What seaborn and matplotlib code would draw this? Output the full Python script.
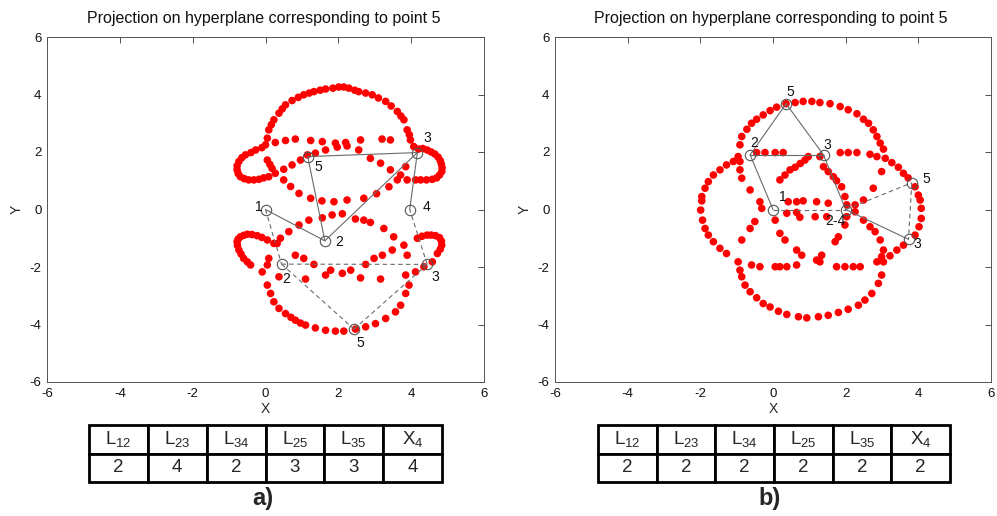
import matplotlib
matplotlib.use("Agg")
import matplotlib.pyplot as plt
import seaborn as sns
import pandas as pd

# ---------------- data: panel a) ----------------
a_upper_arc = [(0.0,2.25),(0.05,2.48),(0.09,2.77),(0.16,2.95),(0.23,3.12),(0.37,3.35),(0.46,3.5),(0.55,3.64),(0.73,3.79),
               (0.9,3.9),(1.05,3.99),(1.2,4.05),(1.33,4.1),(1.5,4.15),(1.65,4.19),(1.85,4.22),(2.01,4.26),(2.15,4.26),
               (2.29,4.22),(2.45,4.15),(2.56,4.1),(2.75,4.05),(2.93,3.99),(3.1,3.88),(3.3,3.76),(3.45,3.6),(3.62,3.41),
               (3.72,3.25),(3.8,3.12),(3.89,2.77),(3.95,2.6),(3.98,2.42),(4.07,2.19)]
a_left_loop_up = [(-0.1,2.15),(-0.27,2.07),(-0.4,1.98),(-0.55,1.9),(-0.65,1.8),(-0.73,1.67),(-0.78,1.52),(-0.78,1.38),
                  (-0.75,1.25),(-0.69,1.14),(-0.58,1.07),(-0.46,1.03),(-0.32,1.03),(-0.18,1.05),(-0.05,1.1),(0.09,1.14),
                  (0.27,1.26),(0.18,1.43),(0.12,1.57),(0.05,1.72),(0.5,1.4),(0.73,1.55),(0.96,1.72),(1.15,1.9)]
a_upper_row = [(0.27,2.33),(0.55,2.4),(0.82,2.45),(1.24,2.4),(1.56,2.36),(1.92,2.31),(2.2,2.33),(2.61,2.42),(3.2,2.45),(3.43,2.42)]
a_upper_diag = [(1.37,1.96),(1.65,2.07),(1.97,2.17),(2.24,2.21),(2.56,2.07),(2.88,1.78),(3.16,1.61),(3.43,1.38),
                (3.71,1.2),(3.89,1.03),(4.12,1.03)]
a_right_loop_up = [(4.26,1.03),(4.42,1.03),(4.58,1.05),(4.7,1.1),(4.78,1.2),(4.84,1.32),(4.85,1.45),(4.83,1.58),
                   (4.8,1.7),(4.74,1.82),(4.65,1.93),(4.55,2.0),(4.44,2.07),(4.32,2.12),(4.2,2.1)]
a_inner_up = [(0.5,1.03),(0.69,0.8),(0.92,0.56),(1.24,0.39),(1.55,0.3),(1.88,0.27),(2.24,0.33),(2.7,0.39),(3.05,0.55),
              (3.39,0.79),(3.62,1.03),(3.85,1.49)]
a_left_loop_low = [(0.23,-1.18),(0.05,-1.06),(-0.1,-0.97),(-0.23,-0.91),(-0.37,-0.87),(-0.5,-0.86),(-0.6,-0.9),
                   (-0.69,-0.95),(-0.75,-1.03),(-0.78,-1.12),(-0.77,-1.25),(-0.73,-1.41),(-0.67,-1.55),(-0.6,-1.7),
                   (-0.5,-1.82),(-0.41,-1.93)]
a_inner_low = [(0.32,-1.18),(0.41,-1.0),(0.64,-0.77),(0.92,-0.54),(1.19,-0.37),(1.56,-0.29),(1.83,-0.19),(2.11,-0.15),
               (2.47,-0.33),(2.7,-0.37),(2.88,-0.45),(3.25,-0.66),(3.52,-0.95),(3.8,-1.24),(3.89,-1.59)]
a_lower_arc = [(0.09,-1.7),(0.05,-1.93),(-0.09,-2.17),(0.05,-2.63),(0.14,-2.92),(0.23,-3.21),(0.37,-3.44),(0.55,-3.62),
               (0.7,-3.75),(0.82,-3.85),(0.96,-3.95),(1.1,-4.02),(1.37,-4.12),(1.65,-4.2),(1.92,-4.23),(2.15,-4.23),
               (2.47,-4.16),(2.75,-4.08),(3.02,-3.97),(3.3,-3.79),(3.57,-3.56),(3.71,-3.33),(3.85,-2.92),(3.94,-2.63),
               (4.12,-2.17),(4.35,-1.99)]
a_right_loop_low = [(4.58,-1.82),(4.72,-1.53),(4.8,-1.38),(4.84,-1.24),(4.83,-1.1),(4.78,-0.98),(4.67,-0.91),
                    (4.55,-0.89),(4.44,-0.89),(4.3,-0.93),(4.17,-1.0)]
a_lower_rows = [(0.82,-1.59),(1.05,-1.7),(1.33,-1.91),(2.75,-1.91),(2.98,-1.7),(3.21,-1.59),(3.48,-1.41),
                (0.37,-2.34),(1.1,-2.42),(1.65,-2.28),(1.79,-2.11),(2.11,-2.22),(2.34,-2.11),(2.61,-2.38),
                (3.16,-2.42),(3.85,-2.28)]

a_joints = {"1": (0.0, 0.0), "2": (1.63, -1.09), "3": (4.17, 1.98), "4": (3.96, 0.0), "5": (1.16, 1.84),
            "2'": (0.44, -1.9), "3'": (4.44, -1.91), "5'": (2.43, -4.16)}
a_solid = [("1","2"),("2","5"),("5","3"),("3","2"),("3","4")]
a_dashed = [("1","2'"),("2'","3'"),("2'","5'"),("5'","3'"),("3'","4")]
a_labels = [("1",(-0.18,0.08)),("2",(2.01,-1.12)),("3",(4.44,2.48)),("4",(4.42,0.08)),("5",(1.46,1.47)),
            ("2",(0.58,-2.43)),("3",(4.67,-2.36)),("5",(2.59,-4.66))]

# ---------------- data: panel b) ----------------
b_top_arc = [(-0.91,2.25),(-0.86,2.54),(-0.72,2.79),(-0.59,3.0),(-0.45,3.14),(-0.27,3.29),(-0.08,3.44),(0.1,3.56),
             (0.36,3.68),(0.61,3.72),(0.83,3.76),(1.07,3.76),(1.29,3.72),(1.57,3.68),(1.85,3.58),(2.07,3.47),
             (2.31,3.33),(2.49,3.14),(2.63,3.0),(2.76,2.77),(2.86,2.54),(2.95,2.31),(3.04,2.1)]
b_right_arc = [(3.09,1.78),(3.27,1.63),(3.45,1.47),(3.59,1.26),(3.72,1.1),(3.91,0.79),(4.0,0.5),(4.05,0.33),
               (4.08,0.04),(4.08,-0.31),(4.02,-0.6),(3.91,-0.89),(3.59,-1.24),(3.41,-1.41),(3.22,-1.61)]
b_lower_arc = [(2.99,-2.28),(2.9,-2.57),(2.72,-2.92),(2.53,-3.15),(2.35,-3.33),(2.07,-3.47),(1.8,-3.58),(1.52,-3.68),
               (1.25,-3.73),(0.93,-3.77),(0.7,-3.73),(0.38,-3.65),(0.15,-3.54),(-0.08,-3.39),(-0.27,-3.27),
               (-0.45,-3.07),(-0.63,-2.86),(-0.77,-2.63),(-0.86,-2.34),(-0.91,-2.11),(-0.96,-1.82)]
b_left_arc = [(-1.28,-1.53),(-1.46,-1.35),(-1.64,-1.12),(-1.78,-0.89),(-1.87,-0.66),(-1.94,-0.37),(-1.99,-0.02),
              (-1.96,0.3),(-1.96,0.45),(-1.87,0.74),(-1.78,0.97),(-1.64,1.2),(-1.46,1.38),(-1.28,1.55),(-1.09,1.67),
              (-0.96,1.84)]
b_upper_row = [(-0.45,1.98),(-0.22,1.98),(0.06,1.98),(0.28,1.98),(1.29,1.84),(1.85,1.98),(2.07,1.98),(2.31,1.98),
               (2.67,1.92),(2.86,1.84)]
b_inner_up = [(-0.91,1.67),(-0.91,1.38),(-0.86,1.09),(-0.63,0.68),(-0.36,0.27),(-0.31,0.04),
              (0.19,1.03),(0.33,1.2),(0.47,1.38),(0.61,1.47),(0.75,1.6),(0.88,1.72),(0.97,1.84),
              (1.39,1.49),(1.52,1.32),(1.66,1.14),(1.75,1.0),(1.89,0.79),(1.98,0.45),(2.03,0.16),
              (2.99,1.32),(2.76,0.74),(2.49,0.33),(2.26,0.16)]
b_mid_rows = [(0.42,0.27),(0.65,0.27),(0.83,0.3),(1.2,0.27),(1.52,0.22),
              (0.38,-0.13),(0.65,-0.1),(1.16,-0.25),(1.48,-0.25),(0.06,-0.37),(0.74,-0.27)]
b_inner_low = [(-0.5,-0.42),(-0.63,-0.66),(-0.86,-1.06),(0.19,-0.83),(0.33,-1.06),(0.65,-1.41),(0.79,-1.59),
               (1.2,-1.76),(1.34,-1.59),(1.29,-1.82),(1.71,-1.12),(1.8,-0.95),(1.98,-0.54),(2.03,-0.25),
               (2.26,-0.08),(2.49,-0.37),(2.67,-0.6),(2.81,-0.77),(2.95,-1.06),(3.04,-1.41),(2.99,-1.64),
               (3.04,-1.82),(2.86,-1.82)]
b_lower_row = [(-0.59,-1.93),(-0.36,-1.99),(0.06,-1.99),(0.19,-1.99),(0.38,-1.99),(0.65,-1.93),
               (1.75,-1.99),(1.98,-1.99),(2.21,-1.99),(2.4,-1.99)]

b_joints = {"1": (0.0, 0.0), "2": (-0.63, 1.9), "5": (0.36, 3.68), "3": (1.39, 1.9), "24": (2.0, 0.0),
            "5'": (3.82, 0.93), "3'": (3.73, -1.04)}
b_solid = [("1","2"),("2","5"),("5","3"),("2","3"),("3","24"),("24","3'")]
b_dashed = [("1","24"),("24","5'"),("5'","3'")]
b_labels = [("5",(0.47,4.07)),("2",(-0.52,2.33)),("3",(1.5,2.25)),("1",(0.28,0.45)),("2-4",(1.71,-0.39)),
            ("5",(4.23,1.06)),("3",(3.98,-1.2))]

# ---------------- tables ----------------
table_headers = ["L$_{12}$", "L$_{23}$", "L$_{34}$", "L$_{25}$", "L$_{35}$", "X$_{4}$"]
a_table_values = ["2", "4", "2", "3", "3", "4"]
b_table_values = ["2", "2", "2", "2", "2", "2"]
title_text = "Projection on hyperplane corresponding to point 5"
tick_values = [-6, -4, -2, 0, 2, 4, 6]

# ---------------- drawing ----------------
sns.set_theme(style="white")
plt.rcParams['font.family'] = ['Liberation Sans', 'DejaVu Sans']
plt.rcParams['mathtext.default'] = 'regular'

W, H = 997, 516
fig = plt.figure(figsize=(W/100, H/100), dpi=100)

def fx(px): return px / W
def fy(py): return 1 - py / H

panels = [
    dict(left=47, right=484,
         curves=[a_upper_arc, a_left_loop_up, a_upper_row, a_upper_diag, a_right_loop_up, a_inner_up,
                 a_left_loop_low, a_inner_low, a_lower_arc, a_right_loop_low, a_lower_rows],
         joints=a_joints, solid=a_solid, dashed=a_dashed, labels=a_labels,
         tvals=a_table_values, tleft=89, tright=442, letter="a)"),
    dict(left=555, right=991,
         curves=[b_top_arc, b_right_arc, b_lower_arc, b_left_arc, b_upper_row, b_inner_up, b_mid_rows,
                 b_inner_low, b_lower_row],
         joints=b_joints, solid=b_solid, dashed=b_dashed, labels=b_labels,
         tvals=b_table_values, tleft=598, tright=950, letter="b)"),
]

top_px, bot_px = 37, 382
for p in panels:
    ax = fig.add_axes([fx(p["left"]), fy(bot_px), fx(p["right"] - p["left"]), (bot_px - top_px) / H])
    pts = [pt for c in p["curves"] for pt in c]
    df = pd.DataFrame(pts, columns=["x", "y"])
    sns.scatterplot(data=df, x="x", y="y", color="#ff0000", s=30, edgecolor="none", linewidth=0,
                    ax=ax, legend=False, zorder=2)
    J = p["joints"]
    for a, b in p["solid"]:
        ax.plot([J[a][0], J[b][0]], [J[a][1], J[b][1]], color="#6a6a6a", lw=0.8, zorder=3)
    for a, b in p["dashed"]:
        ax.plot([J[a][0], J[b][0]], [J[a][1], J[b][1]], color="#6a6a6a", lw=0.8,
                linestyle=(0, (4, 3)), zorder=3)
    jdf = pd.DataFrame(list(J.values()), columns=["x", "y"])
    ax.plot(jdf["x"], jdf["y"], linestyle="none", marker="o", markersize=7.5, mfc="none",
            mec="#555555", mew=0.8, zorder=4)
    for txt, (lx, ly) in p["labels"]:
        ax.text(lx, ly, txt, fontsize=10, ha="center", va="center", color="#111111", zorder=5)
    ax.set_xlim(-6, 6)
    ax.set_ylim(-6, 6)
    ax.set_xticks(tick_values)
    ax.set_yticks(tick_values)
    ax.set_xticklabels([str(t) for t in tick_values])
    ax.set_yticklabels([str(t) for t in tick_values])
    ax.tick_params(direction="in", length=4, width=0.6, top=True, right=True, labelsize=9.5,
                   colors="#333333", labelcolor="#111111", pad=4)
    for s in ax.spines.values():
        s.set_color("#555555")
        s.set_linewidth(0.7)
        s.set_visible(True)
    ax.set_xlabel("X", fontsize=10, labelpad=2)
    ax.set_ylabel("Y", fontsize=10, labelpad=4)
    cx = (p["left"] + p["right"]) / 2
    fig.text(fx(cx - 2), fy(18), title_text, ha="center", va="center", fontsize=11.5, color="#111111")

    # table
    tax = fig.add_axes([fx(p["tleft"]), fy(482), fx(p["tright"] - p["tleft"]), 57 / H])
    tax.axis("off")
    tb = tax.table(cellText=[table_headers, p["tvals"]], cellLoc="center", bbox=[0, 0, 1, 1])
    tb.auto_set_font_size(False)
    for (r, c), cell in tb.get_celld().items():
        cell.set_linewidth(2.0)
        cell.set_edgecolor("black")
        cell.get_text().set_fontsize(13.5)
    fig.text(fx(cx - 3), fy(499), p["letter"], ha="center", va="center", fontsize=17, fontweight="bold")

fig.savefig("out.png", dpi=100)
